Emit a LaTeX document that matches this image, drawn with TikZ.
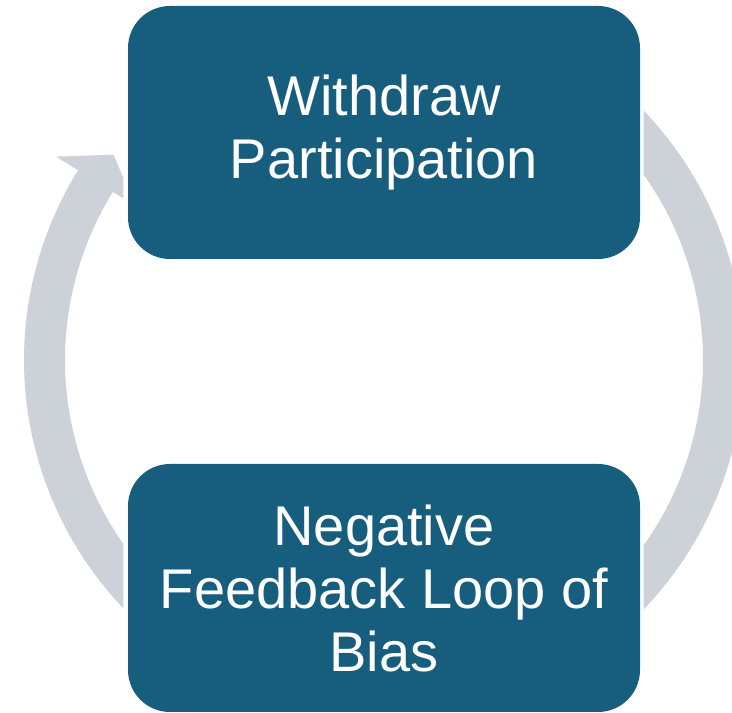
\documentclass[tikz,border=0pt]{standalone}
\usepackage{fontspec}
\setmainfont{Liberation Sans}
\usepackage{xcolor}
\usepackage{tikz}
\usetikzlibrary{positioning,calc}

\definecolor{boxblue}{RGB}{23,94,126}
\definecolor{arcgray}{RGB}{205,210,216}

\begin{document}
\begin{tikzpicture}[x=1pt,y=1pt,
    stage/.style={fill=boxblue, rounded corners=42pt, inner sep=0pt,
        minimum width=512pt, text=white, align=center,
        font=\fontsize{56}{63}\selectfont},
    loop/.style={fill=arcgray}]
    \useasboundingbox (0,0) rectangle (732,713);
    \coordinate (c) at (384,353);

    \node[stage, minimum height=253pt] (withdraw) at (384,580.5) {Withdraw\\Participation};
    \node[stage, minimum height=248pt] (bias) at (384,125) {Negative\\Feedback Loop of\\Bias};

    % left arc, with the arrow head running into the upper box
    \begin{scope}
        \clip ([xshift=-4.5pt]withdraw.west |- 0,0) rectangle (0,713);
        \fill[loop, shift={(c)}] (240:360pt) arc[start angle=240, end angle=148.2, radius=360pt]
            -- (148.2:386pt) -- (142.8:339.5pt) -- (148.2:293pt) -- (148.2:319pt)
            arc[start angle=148.2, end angle=240, radius=319pt] -- cycle;
    \end{scope}

    % right arc from the upper box down to the lower one
    \begin{scope}
        \clip ([xshift=3.5pt]withdraw.east |- 0,0) rectangle (732,713);
        \fill[loop, shift={(c)}] (55:360pt) arc[start angle=55, end angle=-55, radius=360pt]
            -- (-55:319pt) arc[start angle=-55, end angle=55, radius=319pt] -- cycle;
    \end{scope}
\end{tikzpicture}
\end{document}
